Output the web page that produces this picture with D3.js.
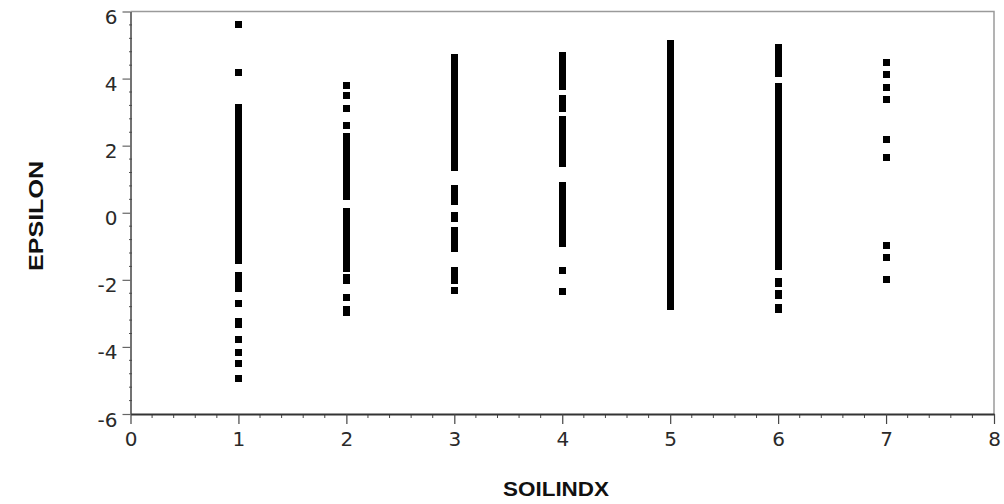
<!DOCTYPE html>
<html>
<head>
<meta charset="utf-8">
<script src="https://cdn.jsdelivr.net/npm/d3@7"></script>
<style>
	body { margin: 0; background: #fff; }
	svg { display: block; }
	.tick text { font-family: "DejaVu Sans", "Liberation Sans", Arial, sans-serif; font-size: 20px; fill: #2a2a2a; }
	.ttl { font-family: "Liberation Sans", Arial, sans-serif; font-weight: bold; font-size: 20px; fill: #111; }
</style>
</head>
<body>
<svg id="chart" width="1004" height="504"></svg>
<script>
"use strict";

// Soil index categories (x) and EPSILON readings (y) per category
var soilIndex = [1, 2, 3, 4, 5, 6, 7];

var eps1 = [5.62, 4.19,
	3.14, 3.0, 2.85, 2.7, 2.55, 2.4, 2.25, 2.1, 1.95, 1.8, 1.65, 1.5, 1.35, 1.2, 1.05, 0.9,
	0.75, 0.6, 0.45, 0.3, 0.15, 0.0, -0.15, -0.3, -0.45, -0.6, -0.75, -0.9, -1.05, -1.2,
	-1.35, -1.42, -1.87, -2.0, -2.12, -2.25, -2.72, -3.24, -3.33, -3.79, -4.17, -4.5, -4.93];

var eps2 = [3.78, 3.5, 3.11, 2.6,
	2.28, 2.13, 1.98, 1.83, 1.68, 1.53, 1.38, 1.23, 1.08, 0.93, 0.78, 0.63, 0.49,
	0.04, -0.11, -0.26, -0.41, -0.56, -0.71, -0.86, -1.01, -1.16, -1.31, -1.46, -1.56, -1.66,
	-1.93, -2.01, -2.53, -2.88, -2.97];

var eps3 = [4.64, 4.49, 4.34, 4.19, 4.04, 3.89, 3.74, 3.59, 3.44, 3.29, 3.14, 2.99, 2.84,
	2.69, 2.54, 2.39, 2.24, 2.09, 1.94, 1.79, 1.64, 1.49, 1.34,
	0.73, 0.6, 0.47, 0.34, -0.08, -0.18,
	-0.53, -0.67, -0.81, -0.95, -1.08, -1.71, -1.86, -2.01, -2.31];

var eps4 = [4.68, 4.53, 4.38, 4.23, 4.08, 3.92, 3.77, 3.42, 3.27, 3.12,
	2.79, 2.64, 2.49, 2.36, 2.15, 2.0, 1.97, 1.77, 1.62, 1.46,
	0.8, 0.65, 0.5, 0.35, 0.2, 0.05, -0.1, -0.25, -0.4, -0.55, -0.7, -0.85, -0.91,
	-1.72, -2.36];

var eps5 = [5.06, 4.91, 4.76, 4.61, 4.46, 4.31, 4.16, 4.01, 3.86, 3.71, 3.56, 3.41, 3.26,
	3.11, 2.96, 2.81, 2.66, 2.51, 2.36, 2.21, 2.06, 1.91, 1.76, 1.61, 1.46, 1.31, 1.16,
	1.01, 0.86, 0.71, 0.56, 0.41, 0.26, 0.11, -0.04, -0.19, -0.34, -0.49, -0.64, -0.79,
	-0.94, -1.09, -1.24, -1.39, -1.54, -1.69, -1.84, -1.99, -2.14, -2.29, -2.44, -2.59,
	-2.69, -2.79];

var eps6 = [4.93, 4.78, 4.63, 4.48, 4.33, 4.14,
	3.75, 3.6, 3.45, 3.3, 3.15, 3.0, 2.85, 2.7, 2.55, 2.4, 2.25, 2.1, 1.95, 1.8, 1.65, 1.5,
	1.35, 1.2, 1.05, 0.9, 0.75, 0.6, 0.45, 0.3, 0.15, 0.0, -0.15, -0.3, -0.45, -0.6, -0.75,
	-0.9, -1.05, -1.2, -1.35, -1.5, -1.61,
	-2.05, -2.12, -2.42, -2.47, -2.82, -2.87];

var eps7 = [4.47, 4.13, 3.74, 3.38, 2.18, 1.65, -0.98, -1.34, -1.99];

var xTicks = [0, 1, 2, 3, 4, 5, 6, 7, 8];
var yTicks = [-6, -4, -2, 0, 2, 4, 6];
var xTitle = "SOILINDX";
var yTitle = "EPSILON";

// Flatten to (soil, eps) pairs
var epsBySoil = [eps1, eps2, eps3, eps4, eps5, eps6, eps7];
var points = [];
soilIndex.forEach(function(s, i) {
	epsBySoil[i].forEach(function(e) { points.push({x: s, y: e}); });
});

var svg = d3.select("#chart");
var m = {l: 130.5, r: 994, t: 11.5, b: 414};

var x = d3.scaleLinear().domain([0, 8]).range([m.l, m.r]);
var y = d3.scaleLinear().domain([-6, 6]).range([m.b, m.t]);

// plain hyphen minus, as in the original
var fmt = function(d) { return String(d); };

// Frame: top & right light grey
svg.append("path").attr("fill", "none").attr("stroke", "#9a9a9a").attr("stroke-width", 1.5)
	.attr("d", "M" + m.l + "," + m.t + "H" + m.r + "V" + m.b);

// Minor ticks
var xMinor = d3.range(0, 8.001, 0.2).filter(function(v) { return Math.abs(v - Math.round(v)) > 1e-6; });
var yMinor = d3.range(-6, 6.001, 0.4).filter(function(v) { return Math.abs(v / 2 - Math.round(v / 2)) > 1e-6; });

svg.append("g").selectAll("line").data(xMinor).join("line")
	.attr("x1", function(d) { return x(d); }).attr("x2", function(d) { return x(d); })
	.attr("y1", m.b).attr("y2", m.b + 4).attr("stroke", "#444").attr("stroke-width", 1);

svg.append("g").selectAll("line").data(yMinor).join("line")
	.attr("y1", function(d) { return y(d); }).attr("y2", function(d) { return y(d); })
	.attr("x1", m.l - 1.5).attr("x2", m.l + 1.5).attr("stroke", "#555").attr("stroke-width", 1);

// Axes
var gx = svg.append("g").attr("transform", "translate(0," + m.b + ")")
	.call(d3.axisBottom(x).tickValues(xTicks).tickSize(10).tickSizeOuter(0).tickPadding(7).tickFormat(fmt));
var gy = svg.append("g").attr("transform", "translate(" + m.l + ",0)")
	.call(d3.axisLeft(y).tickValues(yTicks).tickSize(8).tickSizeOuter(0).tickPadding(5).tickFormat(fmt));

gx.select(".domain").attr("stroke", "#333").attr("stroke-width", 2);
gy.select(".domain").attr("stroke", "#444").attr("stroke-width", 1.5);
gx.selectAll(".tick line").attr("stroke", "#444").attr("stroke-width", 1.2);
gy.selectAll(".tick line").attr("stroke", "#666").attr("stroke-width", 1.2);
gx.selectAll(".tick text").attr("dy", "0.75em");
gy.selectAll(".tick text").attr("dy", "0.6em");
svg.selectAll(".tick text").attr("fill", "#2a2a2a");

// Points: small black squares
var sw = 7, sh = 7;
svg.append("g").attr("shape-rendering", "crispEdges")
	.selectAll("rect").data(points).join("rect")
	.attr("x", function(d) { return Math.round(x(d.x) - sw / 2); })
	.attr("y", function(d) { return Math.round(y(d.y) - sh / 2); })
	.attr("width", sw).attr("height", sh).attr("fill", "#000");

// Titles
svg.append("text").attr("class", "ttl").attr("x", 556).attr("y", 496)
	.attr("text-anchor", "middle").attr("textLength", 106).attr("lengthAdjust", "spacingAndGlyphs")
	.text(xTitle);
svg.append("text").attr("class", "ttl").attr("transform", "translate(43,216) rotate(-90)")
	.attr("text-anchor", "middle").attr("textLength", 110).attr("lengthAdjust", "spacingAndGlyphs")
	.text(yTitle);

/* EOF */
</script>
</body>
</html>
